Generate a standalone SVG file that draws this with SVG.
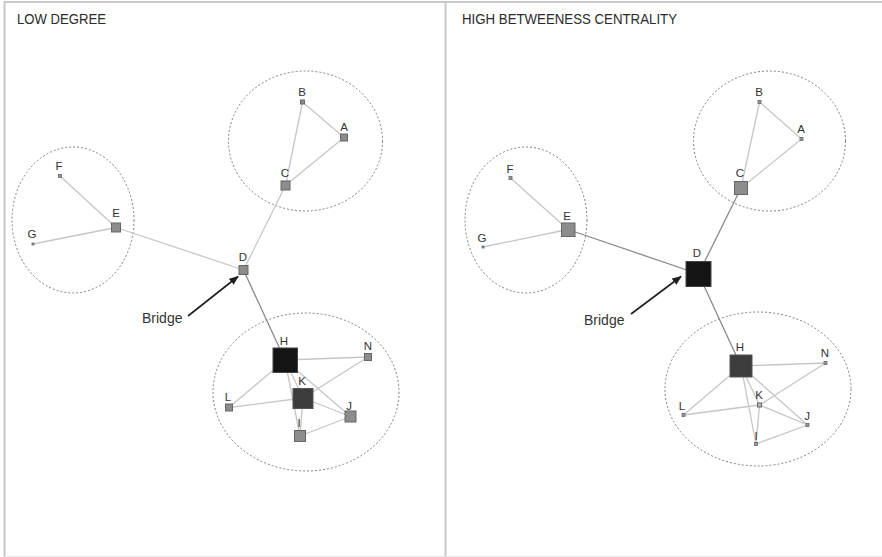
<svg xmlns="http://www.w3.org/2000/svg" width="882" height="557" viewBox="0 0 882 557">
  <style>
    .title { font-family: "Liberation Sans", Arial, sans-serif; font-size: 15px; fill: #2a2a2a; }
    .lbl { font-family: "Liberation Sans", Arial, sans-serif; font-size: 11.5px; fill: #333; text-anchor: middle; }
    .bridge { font-family: "Liberation Sans", Arial, sans-serif; font-size: 14px; fill: #333; }
    .group { fill: none; stroke: #808080; stroke-width: 1; stroke-dasharray: 2 2; }
    .edge { stroke: #c6c6c6; stroke-width: 1.3; fill: none; }
    .edge-dark { stroke: #8a8a8a; stroke-width: 1.3; fill: none; }
    .node { fill: #8c8c8c; stroke: #666; stroke-width: 1; }
    .dot { fill: #999; stroke: #666; stroke-width: 0.8; }
    .hub { fill: #141414; stroke: #444; stroke-width: 1; }
    .hub2 { fill: #3c3c3c; stroke: #555; stroke-width: 1; }
    .arrow { stroke: #1e1e1e; stroke-width: 1.6; fill: none; }
  </style>
  <defs>
    <marker id="tip" viewBox="0 0 10 10" refX="9" refY="5" markerWidth="6" markerHeight="6" orient="auto" markerUnits="strokeWidth">
      <path d="M0,1 L10,5 L0,9 z" fill="#1e1e1e"/>
    </marker>
  </defs>

  <rect x="0" y="0" width="882" height="557" fill="#fff"/>

  <!-- panel frames -->
  <g id="frames" fill="none" stroke="#c8c8c8">
    <line x1="4" y1="2" x2="882" y2="2" stroke-width="2"/>
    <line x1="4.5" y1="2" x2="4.5" y2="557" stroke-width="2"/>
    <line x1="445.5" y1="2" x2="445.5" y2="557" stroke-width="2"/>
    <line x1="4" y1="556.5" x2="882" y2="556.5" stroke-width="1" stroke="#e6e6e6"/>
  </g>

  <text class="title" x="17" y="24" textLength="89" lengthAdjust="spacingAndGlyphs">LOW DEGREE</text>
  <text class="title" x="462" y="24" textLength="215" lengthAdjust="spacingAndGlyphs">HIGH BETWEENESS CENTRALITY</text>

  <!-- community outlines -->
  <g id="communities">
    <ellipse class="group" cx="305.5" cy="141" rx="77" ry="70"/>
    <ellipse class="group" cx="73" cy="220" rx="61" ry="73"/>
    <ellipse class="group" cx="306" cy="392" rx="93" ry="79"/>
    <ellipse class="group" cx="769.5" cy="141" rx="76" ry="70"/>
    <ellipse class="group" cx="526" cy="220" rx="61" ry="73"/>
    <ellipse class="group" cx="758" cy="389" rx="93" ry="77"/>
  </g>

  <!-- connectors -->
  <g id="connectors">
    <!-- low degree panel -->
    <line class="edge" x1="302.5" y1="102" x2="344" y2="137.5"/>
    <line class="edge" x1="302.5" y1="102" x2="285.5" y2="185.5"/>
    <line class="edge" x1="344" y1="137.5" x2="285.5" y2="185.5"/>
    <line class="edge" x1="285.5" y1="185.5" x2="243.5" y2="270"/>
    <line class="edge" x1="60" y1="176" x2="116" y2="227.5"/>
    <line class="edge" x1="33" y1="244" x2="116" y2="227.5"/>
    <line class="edge" x1="116" y1="227.5" x2="243.5" y2="270"/>
    <line class="edge-dark" x1="243.5" y1="270" x2="285" y2="360"/>
    <line class="edge" x1="285" y1="360" x2="368" y2="357"/>
    <line class="edge" x1="285" y1="360" x2="229" y2="407.5"/>
    <line class="edge" x1="285" y1="360" x2="303" y2="398"/>
    <line class="edge" x1="285" y1="360" x2="300" y2="436"/>
    <line class="edge" x1="285" y1="360" x2="350.5" y2="416.5"/>
    <line class="edge" x1="303" y1="398" x2="368" y2="357"/>
    <line class="edge" x1="303" y1="398" x2="229" y2="407.5"/>
    <line class="edge" x1="303" y1="398" x2="350.5" y2="416.5"/>
    <line class="edge" x1="303" y1="398" x2="300" y2="436"/>
    <line class="edge" x1="300" y1="436" x2="350.5" y2="416.5"/>
    <!-- betweenness panel -->
    <line class="edge" x1="759.5" y1="102" x2="801.5" y2="139"/>
    <line class="edge" x1="759.5" y1="102" x2="741" y2="188"/>
    <line class="edge" x1="801.5" y1="139" x2="741" y2="188"/>
    <line class="edge-dark" x1="741" y1="188" x2="698.5" y2="274"/>
    <line class="edge" x1="510.5" y1="178" x2="568" y2="229.5"/>
    <line class="edge" x1="483" y1="247" x2="568" y2="229.5"/>
    <line class="edge-dark" x1="568" y1="229.5" x2="698.5" y2="274"/>
    <line class="edge-dark" x1="698.5" y1="274" x2="741" y2="366"/>
    <line class="edge" x1="741" y1="366" x2="825.5" y2="363"/>
    <line class="edge" x1="741" y1="366" x2="683.5" y2="415"/>
    <line class="edge" x1="741" y1="366" x2="759.5" y2="405"/>
    <line class="edge" x1="741" y1="366" x2="756" y2="444"/>
    <line class="edge" x1="741" y1="366" x2="807.5" y2="425"/>
    <line class="edge" x1="759.5" y1="405" x2="825.5" y2="363"/>
    <line class="edge" x1="759.5" y1="405" x2="683.5" y2="415"/>
    <line class="edge" x1="759.5" y1="405" x2="807.5" y2="425"/>
    <line class="edge" x1="759.5" y1="405" x2="756" y2="444"/>
    <line class="edge" x1="756" y1="444" x2="807.5" y2="425"/>
    <!-- bridge pointers -->
    <line class="arrow" x1="188" y1="316" x2="238" y2="276.5" marker-end="url(#tip)"/>
    <line class="arrow" x1="631" y1="314" x2="681" y2="276.5" marker-end="url(#tip)"/>
  </g>

  <!-- nodes: low degree panel -->
  <g id="low-B"><rect class="node" x="300.5" y="100" width="4" height="4"/><text class="lbl" x="302" y="96">B</text></g>
  <g id="low-A"><rect class="node" x="340.5" y="134" width="7" height="7"/><text class="lbl" x="344" y="131">A</text></g>
  <g id="low-C"><rect class="node" x="281" y="181" width="9" height="9"/><text class="lbl" x="285" y="177">C</text></g>
  <g id="low-F"><rect class="dot" x="58.5" y="174.5" width="3" height="3"/><text class="lbl" x="59" y="170">F</text></g>
  <g id="low-G"><rect class="dot" x="32" y="243" width="2" height="2"/><text class="lbl" x="32" y="238">G</text></g>
  <g id="low-E"><rect class="node" x="111.5" y="223" width="9" height="9"/><text class="lbl" x="116" y="217">E</text></g>
  <g id="low-D"><rect class="node" x="239" y="265.5" width="9" height="9"/><text class="lbl" x="243" y="261">D</text></g>
  <g id="low-H"><rect class="hub" x="273" y="348" width="24.5" height="24.5"/><text class="lbl" x="284" y="345">H</text></g>
  <g id="low-K"><rect class="hub2" x="293" y="388.5" width="20" height="20"/><text class="lbl" x="302" y="385">K</text></g>
  <g id="low-N"><rect class="node" x="364.5" y="353.5" width="7" height="7"/><text class="lbl" x="368" y="350">N</text></g>
  <g id="low-L"><rect class="node" x="225.5" y="404" width="7" height="7"/><text class="lbl" x="228" y="401">L</text></g>
  <g id="low-J"><rect class="node" x="345" y="411" width="11" height="11"/><text class="lbl" x="349" y="410">J</text></g>
  <g id="low-I"><rect class="node" x="294.5" y="430.5" width="11" height="11"/><text class="lbl" x="299" y="427">I</text></g>
  <text class="bridge" x="142" y="323">Bridge</text>

  <!-- nodes: betweenness panel -->
  <g id="high-B"><rect class="dot" x="758" y="100.5" width="3" height="3"/><text class="lbl" x="759" y="96">B</text></g>
  <g id="high-A"><rect class="dot" x="800" y="137.5" width="3" height="3"/><text class="lbl" x="801" y="133">A</text></g>
  <g id="high-C"><rect class="node" x="734.5" y="181.5" width="13" height="13"/><text class="lbl" x="740" y="177">C</text></g>
  <g id="high-F"><rect class="dot" x="509" y="176.5" width="3" height="3"/><text class="lbl" x="510" y="173">F</text></g>
  <g id="high-G"><rect class="dot" x="482" y="246" width="2" height="2"/><text class="lbl" x="482" y="242">G</text></g>
  <g id="high-E"><rect class="node" x="561.5" y="223" width="13.5" height="13.5"/><text class="lbl" x="567" y="220">E</text></g>
  <g id="high-D"><rect class="hub" x="686" y="261.5" width="25" height="25"/><text class="lbl" x="697" y="257">D</text></g>
  <g id="high-H"><rect class="hub2" x="730" y="355" width="22" height="22"/><text class="lbl" x="740" y="351">H</text></g>
  <g id="high-N"><rect class="dot" x="824" y="361.5" width="3" height="3"/><text class="lbl" x="825" y="357">N</text></g>
  <g id="high-K"><rect class="node" x="757.5" y="403" width="4" height="4" style="fill:#bbb"/><text class="lbl" x="759" y="399">K</text></g>
  <g id="high-L"><rect class="dot" x="682" y="413.5" width="3" height="3"/><text class="lbl" x="682" y="410">L</text></g>
  <g id="high-J"><rect class="dot" x="806" y="423.5" width="3" height="3"/><text class="lbl" x="807" y="420">J</text></g>
  <g id="high-I"><rect class="dot" x="754.5" y="442.5" width="3" height="3"/><text class="lbl" x="756" y="440">I</text></g>
  <text class="bridge" x="584" y="325">Bridge</text>
</svg>
